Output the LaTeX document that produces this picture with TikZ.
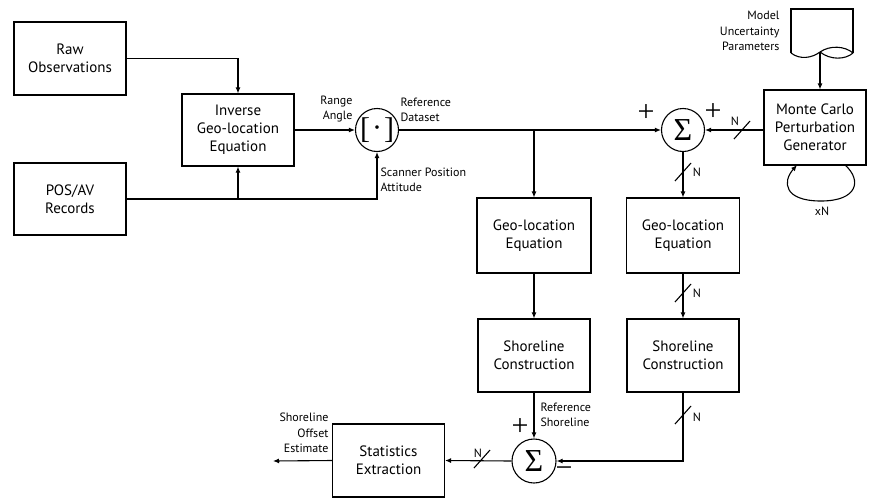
\documentclass[tikz,border=0pt]{standalone}
\usepackage{fontspec}
\setmainfont{PT Sans}
\newfontfamily\symf{Liberation Serif}
\usetikzlibrary{arrows.meta}
\begin{document}
\begin{tikzpicture}[x=1pt,y=-1pt, line width=1.1pt,
  box/.style={draw, minimum width=112pt, minimum height=73pt, align=center, font=\fontsize{15}{18}\selectfont, inner sep=0pt},
  sumc/.style={draw, circle, minimum size=43pt, inner sep=0pt},
  lbl/.style={font=\fontsize{12}{15.5}\selectfont, inner sep=0pt},
  sgn/.style={font=\symf\fontsize{30}{30}\selectfont, inner sep=0pt},
  arr/.style={-{Latex[length=6pt,width=5pt]}},
  slsh/.style={line width=1.1pt}
  ]
\useasboundingbox (0,0) rectangle (869,498);
% boxes
\node[box] (raw) at (70,58.5) {Raw\\Observations};
\node[box, minimum height=72pt] (inv) at (238,130) {Inverse\\Geo-location\\Equation};
\node[box, minimum height=72pt] (pos) at (70,199) {POS/AV\\Records};
\node[sumc] (c1) at (377,130) {\symf\fontsize{30}{30}\selectfont[\kern2pt\raisebox{1pt}{·}\kern2pt]};
\node[sumc] (s1) at (683,130) {\symf\fontsize{32}{32}\selectfont Σ};
\node[box, minimum width=102pt, minimum height=75pt] (mc) at (815,127.5) {Monte Carlo\\Perturbation\\Generator};
\node[box, minimum width=114pt, minimum height=75pt] (g1) at (534,235.5) {Geo-location\\Equation};
\node[box, minimum width=113pt, minimum height=75pt] (g2) at (683,235.5) {Geo-location\\Equation};
\node[box] (sh1) at (534,355.5) {Shoreline\\Construction};
\node[box] (sh2) at (683,355.5) {Shoreline\\Construction};
\node[sumc, minimum size=44pt] (s2) at (534,461) {\symf\fontsize{32}{32}\selectfont Σ};
\node[box] (st) at (388.5,460.5) {Statistics\\Extraction};
% document shape
\draw (791,53) -- (791,9) -- (853,9) -- (853,53);
\draw (791,53) .. controls (800,60) and (812,58) .. (820,52) .. controls (830,45) and (845,46) .. (853,53);
\draw (820,52) .. controls (830,60) and (845,60) .. (853,53);
\coordinate (docb) at (820,52);
\coordinate (outp) at (273,461);
\coordinate (lpA) at (845,165);
\coordinate (lpB) at (797,165);
% connectors
\draw[arr] (raw.east) -| (inv.north);
\draw[arr] (pos.east) -| (c1.south);
\draw[arr] (pos.east -| inv.south) -- (inv.south);
\draw[arr] (inv.east) -- (c1.west);
\draw[arr] (c1.east) -- (s1.west);
\draw[arr] (c1.east -| g1.north) -- (g1.north);
\draw[arr] (mc.west |- s1.east) -- (s1.east);
\draw[arr] (docb) -- (docb |- mc.north);
\draw[arr] (s1.south) -- (g2.north);
\draw[arr] (g1.south) -- (sh1.north);
\draw[arr] (g2.south) -- (sh2.north);
\draw[arr] (sh1.south) -- (s2.north);
\draw[arr] (sh2.south) |- (s2.east);
\draw[arr] (s2.west) -- (st.east);
\draw[arr] (st.west) -- (outp);
\draw[arr] (lpA) .. controls (862,180) and (858,201) .. (821,201) .. controls (784,201) and (782,182) .. (lpB);
% slashes
\draw[slsh] (734,139) -- (750,121);
\draw[slsh] (675,181) -- (691,163);
\draw[slsh] (675,302) -- (691,284);
\draw[slsh] (675,424) -- (691,406);
\draw[slsh] (474,468) -- (490,450);
\node[lbl] (n1) at (735,121) {N};
\node[lbl] (n2) at (697,172) {N};
\node[lbl] (n3) at (697,293) {N};
\node[lbl] (n4) at (697,417) {N};
\node[lbl] (n5) at (478,453) {N};
% signs
\node[sgn] (p1) at (646,113) {+};
\node[sgn] (p2) at (713,112) {+};
\node[sgn] (p3) at (520,427) {+};
\node[sgn] (m1) at (564,472) {−};
% labels
\node[lbl, align=right, anchor=east] (la) at (353,109) {Range\\Angle};
\node[lbl, align=left, anchor=west] (lb) at (400,110) {Reference\\Dataset};
\node[lbl, align=left, anchor=west] (lc) at (380,180) {Scanner Position\\Attitude};
\node[lbl, align=right, anchor=east] (ld) at (780,31) {Model\\Uncertainty\\Parameters};
\node[lbl, align=right, anchor=east] (le) at (329,433) {Shoreline\\Offset\\Estimate};
\node[lbl, align=left, anchor=west] (lf) at (540,415) {Reference\\Shoreline};
\node[lbl] (lg) at (822,211) {xN};
\end{tikzpicture}
\end{document}
